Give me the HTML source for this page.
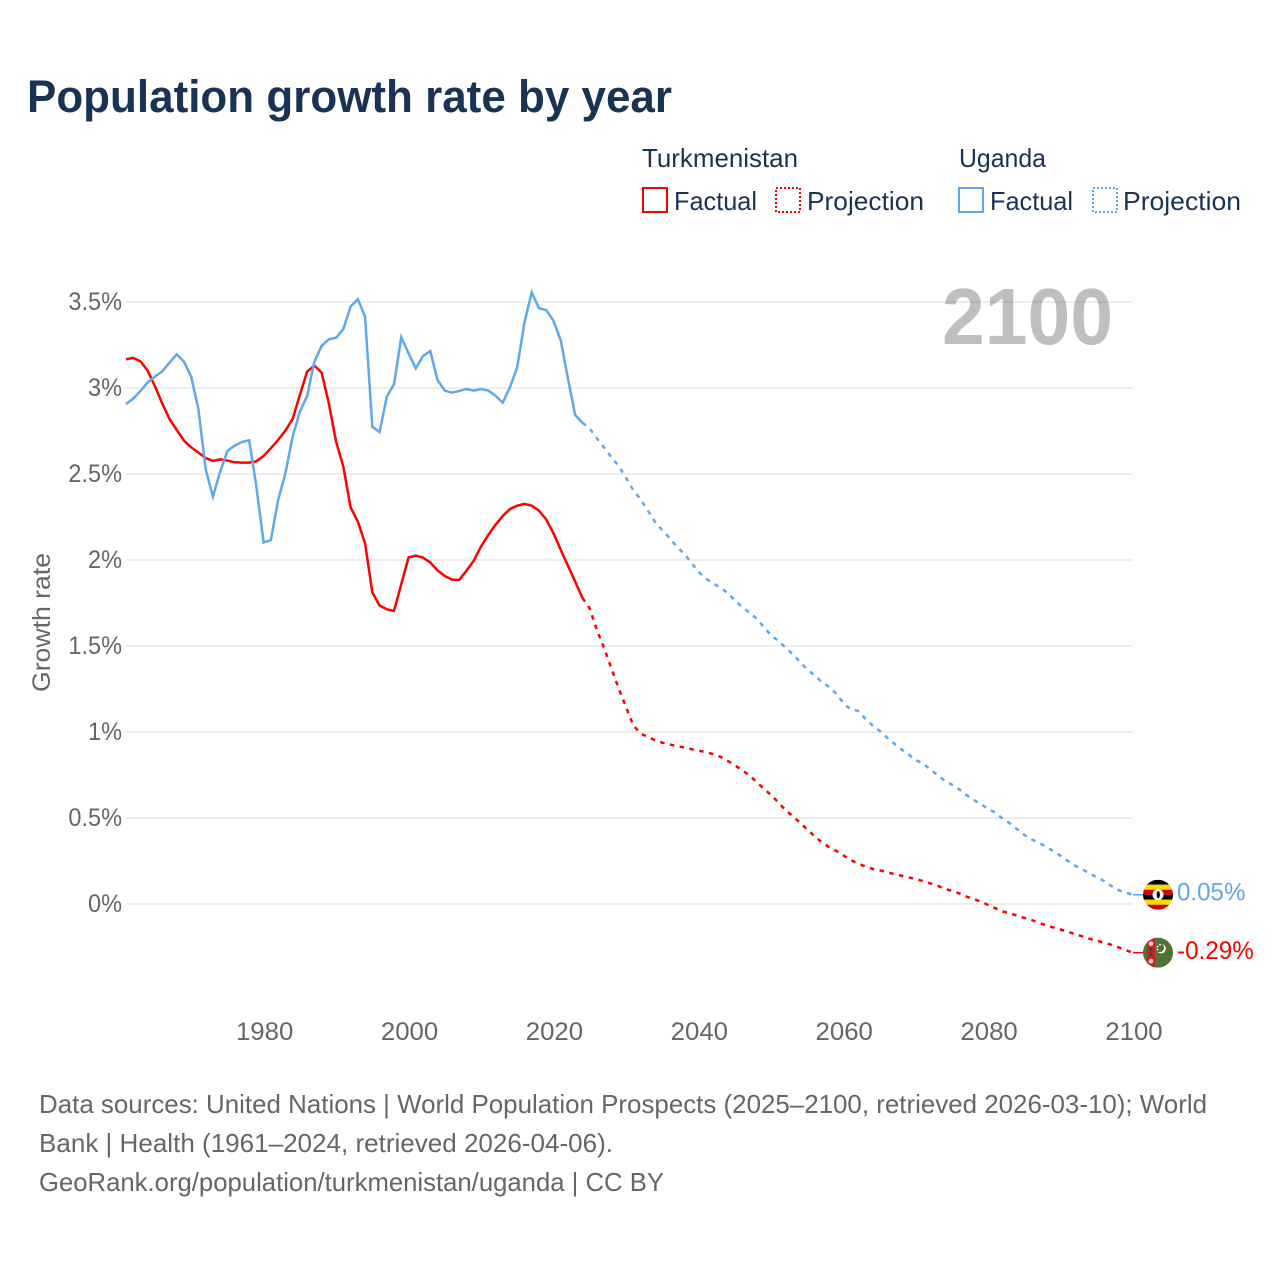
<!DOCTYPE html>
<html lang="en">
<head>
<meta charset="utf-8">
<title>Population growth rate by year</title>
<style>
html,body{margin:0;padding:0;background:#fff;}
svg{display:block;font-family:"Liberation Sans",sans-serif;}
</style>
</head>
<body>
<svg id="chart" xmlns="http://www.w3.org/2000/svg" width="1280" height="1280" viewBox="0 0 1280 1280">
  <rect width="1280" height="1280" fill="#fff"/>
  <defs>
    <clipPath id="flag-clip"><circle r="15"/></clipPath>
  </defs>
  <text x="27" y="112" font-size="45" font-weight="700" fill="#1a3354" textLength="645" lengthAdjust="spacingAndGlyphs">Population growth rate by year</text>

  <g font-size="26" fill="#1a3354">
    <text x="642" y="167" textLength="156" lengthAdjust="spacingAndGlyphs">Turkmenistan</text>
    <text x="959" y="167" textLength="87" lengthAdjust="spacingAndGlyphs">Uganda</text>
    <rect x="643" y="188" width="24" height="24" fill="none" stroke="#ff0000" stroke-width="2"/>
    <text x="674" y="210" textLength="83" lengthAdjust="spacingAndGlyphs">Factual</text>
    <rect x="776" y="188" width="24" height="24" fill="none" stroke="#ff0000" stroke-width="2" stroke-dasharray="2 2"/>
    <text x="807" y="210" textLength="117" lengthAdjust="spacingAndGlyphs">Projection</text>
    <rect x="959" y="188" width="24" height="24" fill="none" stroke="#5fa8ec" stroke-width="2"/>
    <text x="990" y="210" textLength="83" lengthAdjust="spacingAndGlyphs">Factual</text>
    <rect x="1093" y="188" width="24" height="24" fill="none" stroke="#5fa8ec" stroke-width="2" stroke-dasharray="2 2"/>
    <text x="1123" y="210" textLength="118" lengthAdjust="spacingAndGlyphs">Projection</text>
  </g>

  <g id="grid"></g>
  <g id="y-labels"></g>
  <g id="x-labels"></g>
  <text transform="translate(50 622.5) rotate(-90)" text-anchor="middle" font-size="25" fill="#666" textLength="139" lengthAdjust="spacingAndGlyphs">Growth rate</text>
  <text x="942" y="344" font-size="80" font-weight="700" fill="#000" fill-opacity="0.25" textLength="171" lengthAdjust="spacingAndGlyphs">2100</text>
  <g id="series"></g>

  <g id="flag-uganda">
    <g clip-path="url(#flag-clip)">
      <rect x="-15" y="-15" width="30" height="5" fill="#000"/>
      <rect x="-15" y="-10" width="30" height="5" fill="#fcdc04"/>
      <rect x="-15" y="-5" width="30" height="5" fill="#d90000"/>
      <rect x="-15" y="0" width="30" height="5" fill="#000"/>
      <rect x="-15" y="5" width="30" height="5" fill="#fcdc04"/>
      <rect x="-15" y="10" width="30" height="5" fill="#d90000"/>
      <circle r="5.5" fill="#fff"/>
      <ellipse cx="0.3" cy="0" rx="1.6" ry="3.6" fill="#000"/>
    </g>
  </g>
  <g id="flag-turkmenistan">
    <g clip-path="url(#flag-clip)">
      <rect x="-15" y="-15" width="30" height="30" fill="#4f7332"/>
      <rect x="-11" y="-15" width="8" height="30" fill="#c8202f"/>
      <circle cx="-7" cy="-9" r="2.4" fill="#f3c9b0"/>
      <circle cx="-7" cy="-3" r="1.6" fill="#2f4d22"/>
      <circle cx="-7" cy="2" r="1.6" fill="#2f4d22"/>
      <circle cx="-7" cy="8.5" r="2.4" fill="#f3c9b0"/>
      <circle cx="3" cy="-4" r="4.8" fill="#fff"/>
      <circle cx="1.4" cy="-5" r="4.6" fill="#4f7332"/>
      <circle cx="-0.5" cy="-6" r="0.9" fill="#fff"/>
      <circle cx="2" cy="-8" r="0.9" fill="#fff"/>
      <circle cx="-0.5" cy="-3" r="0.9" fill="#fff"/>
    </g>
  </g>
  <g id="end-labels"></g>

  <g font-size="26" fill="#666">
    <text x="39" y="1113" textLength="1168" lengthAdjust="spacingAndGlyphs">Data sources: United Nations | World Population Prospects (2025–2100, retrieved 2026-03-10); World</text>
    <text x="39" y="1152" textLength="574" lengthAdjust="spacingAndGlyphs">Bank | Health (1961–2024, retrieved 2026-04-06).</text>
    <text x="39" y="1191" textLength="625" lengthAdjust="spacingAndGlyphs">GeoRank.org/population/turkmenistan/uganda | CC BY</text>
  </g>
</svg>
<script>
const yTickValues = [0, 0.5, 1, 1.5, 2, 2.5, 3, 3.5];
const yTickLabels = ['0%', '0.5%', '1%', '1.5%', '2%', '2.5%', '3%', '3.5%'];
const xTickValues = [1980, 2000, 2020, 2040, 2060, 2080, 2100];
const xTickLabels = ['1980', '2000', '2020', '2040', '2060', '2080', '2100'];

const factualYears = [1961,1962,1963,1964,1965,1966,1967,1968,1969,1970,1971,1972,1973,1974,1975,1976,1977,1978,1979,1980,1981,1982,1983,1984,1985,1986,1987,1988,1989,1990,1991,1992,1993,1994,1995,1996,1997,1998,1999,2000,2001,2002,2003,2004,2005,2006,2007,2008,2009,2010,2011,2012,2013,2014,2015,2016,2017,2018,2019,2020,2021,2022,2023,2024];
const projectionYears = [2024,2025,2026,2027,2028,2029,2030,2031,2032,2033,2034,2035,2036,2037,2038,2039,2040,2041,2042,2043,2044,2045,2046,2047,2048,2049,2050,2051,2052,2053,2054,2055,2056,2057,2058,2059,2060,2061,2062,2063,2064,2065,2066,2067,2068,2069,2070,2071,2072,2073,2074,2075,2076,2077,2078,2079,2080,2081,2082,2083,2084,2085,2086,2087,2088,2089,2090,2091,2092,2093,2094,2095,2096,2097,2098,2099,2100];

const turkmenistanFactual = [3.167,3.175,3.155,3.10,3.01,2.91,2.82,2.756,2.694,2.655,2.624,2.593,2.576,2.585,2.578,2.568,2.566,2.566,2.574,2.605,2.65,2.698,2.752,2.82,2.96,3.095,3.13,3.09,2.91,2.688,2.543,2.306,2.223,2.097,1.812,1.735,1.713,1.704,1.86,2.015,2.025,2.014,1.985,1.94,1.907,1.886,1.884,1.938,1.996,2.078,2.145,2.204,2.256,2.296,2.316,2.326,2.316,2.287,2.236,2.155,2.06,1.967,1.874,1.78];
const ugandaFactual = [2.907,2.938,2.983,3.033,3.066,3.097,3.147,3.196,3.153,3.066,2.876,2.527,2.368,2.514,2.634,2.665,2.686,2.696,2.426,2.102,2.116,2.349,2.504,2.717,2.862,2.953,3.153,3.244,3.283,3.292,3.343,3.473,3.517,3.415,2.775,2.744,2.95,3.023,3.295,3.202,3.114,3.186,3.215,3.047,2.985,2.973,2.983,2.994,2.985,2.994,2.985,2.955,2.915,3.004,3.12,3.38,3.556,3.465,3.453,3.391,3.279,3.056,2.843,2.798];
const turkmenistanProjection = [1.78,1.719,1.593,1.487,1.37,1.254,1.147,1.04,0.992,0.972,0.953,0.938,0.928,0.918,0.911,0.901,0.891,0.884,0.872,0.857,0.833,0.808,0.779,0.75,0.711,0.672,0.635,0.593,0.547,0.512,0.475,0.434,0.396,0.36,0.332,0.31,0.283,0.256,0.236,0.219,0.205,0.196,0.186,0.174,0.165,0.155,0.145,0.134,0.12,0.107,0.089,0.076,0.062,0.043,0.029,0.014,-0.006,-0.025,-0.043,-0.054,-0.068,-0.081,-0.093,-0.109,-0.124,-0.136,-0.149,-0.161,-0.176,-0.188,-0.202,-0.213,-0.225,-0.237,-0.252,-0.269,-0.283];
const ugandaProjection = [2.798,2.765,2.707,2.653,2.597,2.547,2.48,2.407,2.355,2.29,2.223,2.174,2.13,2.078,2.039,1.987,1.932,1.894,1.864,1.841,1.81,1.767,1.728,1.696,1.661,1.612,1.564,1.531,1.492,1.453,1.409,1.364,1.331,1.292,1.263,1.224,1.17,1.132,1.124,1.08,1.04,1.008,0.969,0.934,0.90,0.87,0.837,0.818,0.783,0.75,0.717,0.694,0.667,0.634,0.605,0.581,0.553,0.531,0.496,0.469,0.435,0.401,0.376,0.357,0.333,0.308,0.28,0.25,0.223,0.202,0.178,0.155,0.134,0.105,0.081,0.066,0.054];

const turkmenistanEndLabel = '-0.29%';
const ugandaEndLabel = '0.05%';

const NS = 'http://www.w3.org/2000/svg';
const RED = '#ff0000';
const BLUE = '#5fa8ec';
const X_LEFT = 126;
const X_RIGHT = 1133;
const Y_ZERO = 904;
const PX_PER_UNIT = 172;
const LINE_WIDTH = '2.5';
const DASH = '4.5 5.5';

function xScale(year) {
  return X_LEFT + (year - 1961) * (X_RIGHT - X_LEFT) / (2100 - 1961);
}
function yScale(value) {
  return Y_ZERO - value * PX_PER_UNIT;
}
function make(tag, parent) {
  const el = document.createElementNS(NS, tag);
  parent.appendChild(el);
  return el;
}
function squeeze(el, factor) {
  el.setAttribute('textLength', (el.getComputedTextLength() * factor).toFixed(1));
  el.setAttribute('lengthAdjust', 'spacingAndGlyphs');
}
function pathFrom(years, values) {
  return values.map(function (v, i) {
    return (i ? 'L' : 'M') + xScale(years[i]).toFixed(2) + ' ' + yScale(v).toFixed(2);
  }).join('');
}

const gridGroup = document.getElementById('grid');
const yLabelGroup = document.getElementById('y-labels');
yTickValues.forEach(function (v, i) {
  const g = make('line', gridGroup);
  
  
  g.setAttribute('x1', X_LEFT);
  g.setAttribute('x2', X_RIGHT);
  g.setAttribute('y1', yScale(v));
  g.setAttribute('y2', yScale(v));
  g.setAttribute('stroke', '#eeeeee');
  g.setAttribute('stroke-width', '2');
  const t = make('text', yLabelGroup);
  
  
  t.setAttribute('x', 122);
  t.setAttribute('y', yScale(v) + 8);
  t.setAttribute('text-anchor', 'end');
  t.setAttribute('font-size', '25');
  t.setAttribute('fill', '#666');
  t.textContent = yTickLabels[i];
  squeeze(t, 0.94);
});

const xLabelGroup = document.getElementById('x-labels');
xTickValues.forEach(function (v, i) {
  const t = make('text', xLabelGroup);
  
  
  t.setAttribute('x', xScale(v) + 1);
  t.setAttribute('y', 1040);
  t.setAttribute('text-anchor', 'middle');
  t.setAttribute('font-size', '25');
  t.setAttribute('fill', '#666');
  t.textContent = xTickLabels[i];
  squeeze(t, 1.03);
});

const seriesGroup = document.getElementById('series');

const redFactual = make('path', seriesGroup);


redFactual.setAttribute('d', pathFrom(factualYears, turkmenistanFactual));
redFactual.setAttribute('fill', 'none');
redFactual.setAttribute('stroke', RED);
redFactual.setAttribute('stroke-width', LINE_WIDTH);

const redProjection = make('path', seriesGroup);


redProjection.setAttribute('d', pathFrom(projectionYears, turkmenistanProjection));
redProjection.setAttribute('fill', 'none');
redProjection.setAttribute('stroke', RED);
redProjection.setAttribute('stroke-width', LINE_WIDTH);
redProjection.setAttribute('stroke-dasharray', DASH);

const blueFactual = make('path', seriesGroup);


blueFactual.setAttribute('d', pathFrom(factualYears, ugandaFactual));
blueFactual.setAttribute('fill', 'none');
blueFactual.setAttribute('stroke', BLUE);
blueFactual.setAttribute('stroke-width', LINE_WIDTH);

const blueProjection = make('path', seriesGroup);


blueProjection.setAttribute('d', pathFrom(projectionYears, ugandaProjection));
blueProjection.setAttribute('fill', 'none');
blueProjection.setAttribute('stroke', BLUE);
blueProjection.setAttribute('stroke-width', LINE_WIDTH);
blueProjection.setAttribute('stroke-dasharray', DASH);

const endY1 = yScale(turkmenistanProjection[turkmenistanProjection.length - 1]);
const endY2 = yScale(ugandaProjection[ugandaProjection.length - 1]);

const redConnector = make('line', seriesGroup);


redConnector.setAttribute('x1', X_RIGHT);
redConnector.setAttribute('x2', X_RIGHT + 12);
redConnector.setAttribute('y1', endY1);
redConnector.setAttribute('y2', endY1);
redConnector.setAttribute('stroke', RED);
redConnector.setAttribute('stroke-width', '1.5');

const blueConnector = make('line', seriesGroup);


blueConnector.setAttribute('x1', X_RIGHT);
blueConnector.setAttribute('x2', X_RIGHT + 12);
blueConnector.setAttribute('y1', endY2);
blueConnector.setAttribute('y2', endY2);
blueConnector.setAttribute('stroke', BLUE);
blueConnector.setAttribute('stroke-width', '1.5');

document.getElementById('flag-turkmenistan').setAttribute('transform', 'translate(1158 ' + endY1 + ')');
document.getElementById('flag-uganda').setAttribute('transform', 'translate(1158 ' + endY2 + ')');

const endGroup = document.getElementById('end-labels');

const redEnd = make('text', endGroup);


redEnd.setAttribute('x', 1177);
redEnd.setAttribute('y', endY1 + 6.5);
redEnd.setAttribute('font-size', '25');
redEnd.setAttribute('fill', RED);
redEnd.textContent = turkmenistanEndLabel;
squeeze(redEnd, 0.97);

const blueEnd = make('text', endGroup);


blueEnd.setAttribute('x', 1177);
blueEnd.setAttribute('y', endY2 + 6);
blueEnd.setAttribute('font-size', '25');
blueEnd.setAttribute('fill', BLUE);
blueEnd.textContent = ugandaEndLabel;
squeeze(blueEnd, 0.965);
</script>
</body>
</html>
